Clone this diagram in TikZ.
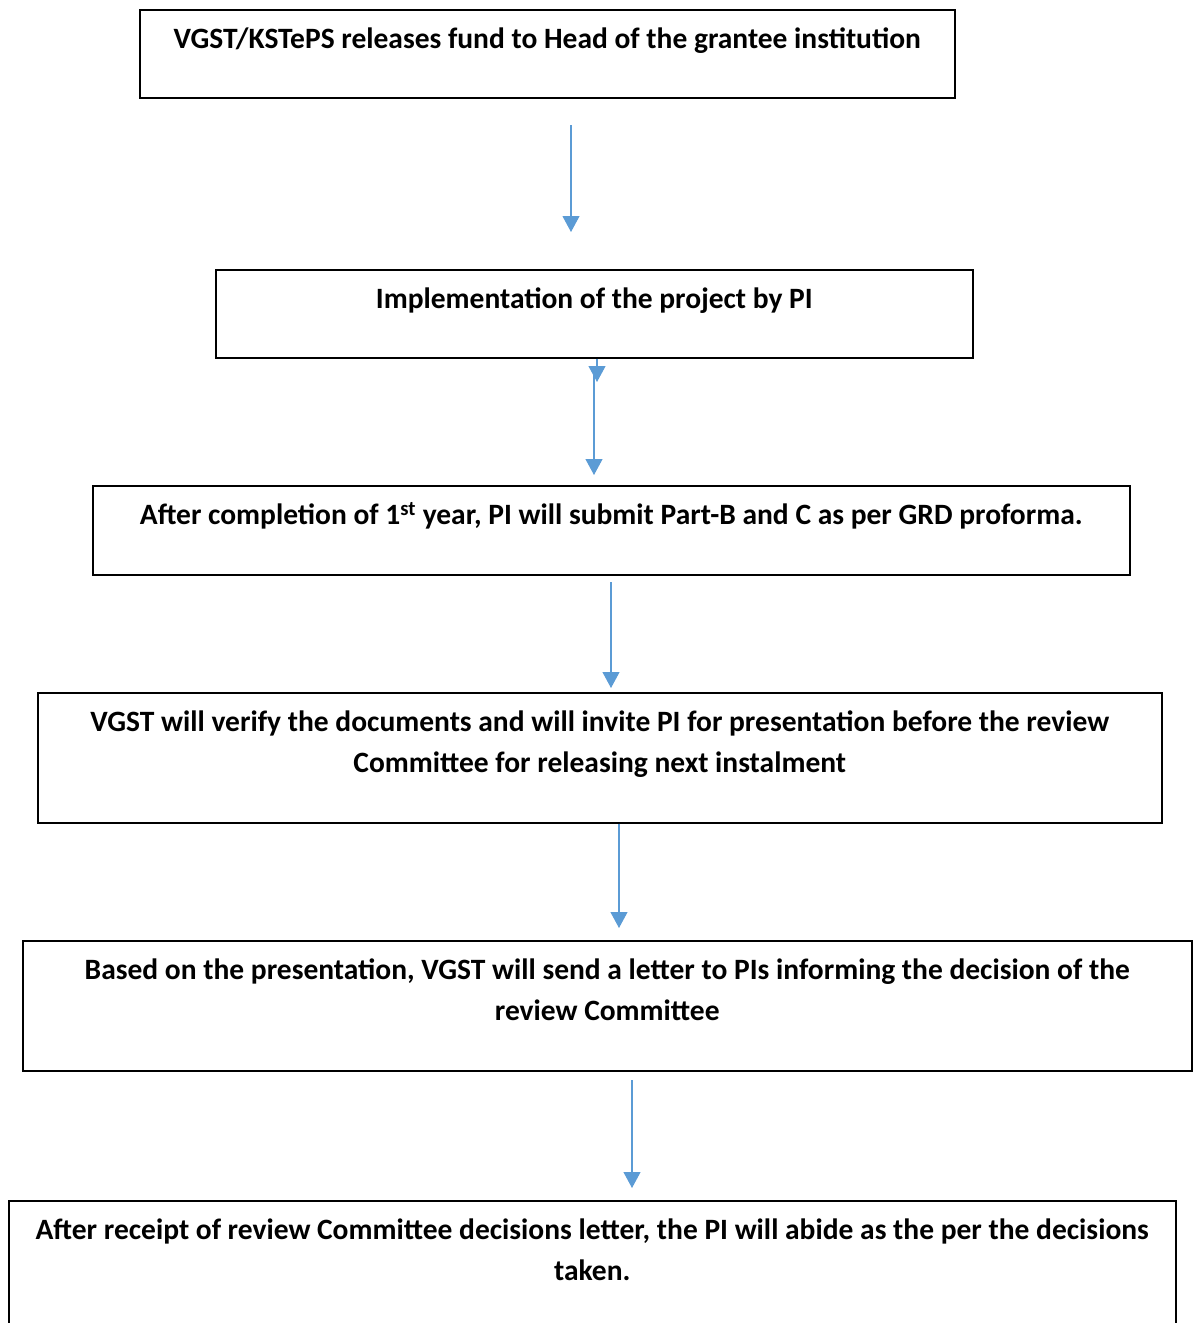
\documentclass[tikz,border=0pt]{standalone}
\usepackage{fontspec}
\setmainfont{Carlito}
\usetikzlibrary{arrows.meta}
\definecolor{arrowblue}{HTML}{5B9BD5}
\newcommand\firstln{\rule{0pt}{24pt}}
\tikzset{
  box/.style={draw=black, line width=1.6pt, anchor=north west, inner sep=0pt},
  txt/.style={font=\bfseries\fontsize{29.5}{41}\selectfont, align=center, anchor=north, inner sep=0pt},
  flow/.style={draw=arrowblue, line width=1.1pt, -{Triangle[width=17pt,length=16pt]}},
}
\begin{document}
\begin{tikzpicture}[x=1pt,y=-1pt]
\useasboundingbox (0,0) rectangle (1195,1323);
% boxes
\node[box, minimum width=815pt, minimum height=88pt] (b1) at (139,9) {};
\node[box, minimum width=757pt, minimum height=88pt] (b2) at (215,269) {};
\node[box, minimum width=1037pt, minimum height=89pt] (b3) at (92,485) {};
\node[box, minimum width=1124pt, minimum height=130pt] (b4) at (37,692) {};
\node[box, minimum width=1169pt, minimum height=130pt] (b5) at (22,940) {};
\node[box, minimum width=1167pt, minimum height=140pt] (b6) at (8,1200) {};
% texts
\node[txt] (t1) at ([yshift=-15pt]b1.north) {\firstln VGST/KSTePS releases fund to Head of the grantee institution};
\node[txt] (t2) at ([yshift=-15pt]b2.north) {\firstln Implementation of the project by PI};
\node[txt] (t3) at ([yshift=-15pt]b3.north) {\firstln After completion of 1\textsuperscript{st} year, PI will submit Part-B and C as per GRD proforma.};
\node[txt] (t4) at ([yshift=-15pt]b4.north) {\firstln VGST will verify the documents and will invite PI for presentation before the review\\Committee for releasing next instalment};
\node[txt] (t5) at ([yshift=-15pt]b5.north) {\firstln Based on the presentation, VGST will send a letter to PIs informing the decision of the\\review Committee};
\node[txt] (t6) at ([yshift=-15pt]b6.north) {\firstln After receipt of review Committee decisions letter, the PI will abide as the per the decisions\\taken.};
% arrow end points
\coordinate (s1) at (571,125);  \coordinate (e1) at (571,232);
\coordinate (e2a) at (597,382);
\coordinate (s2) at (594,372);  \coordinate (e2) at (594,475);
\coordinate (s3) at (611,582);  \coordinate (e3) at (611,688);
\coordinate (e4) at (619,928);
\coordinate (s5) at (632,1080); \coordinate (e5) at (632,1188);
% connectors
\draw[flow] (s1) -- (e1);
\draw[flow] (b2.south -| e2a) -- (e2a);
\draw[flow] (s2) -- (e2);
\draw[flow] (s3) -- (e3);
\draw[flow] (b4.south -| e4) -- (e4);
\draw[flow] (s5) -- (e5);
\end{tikzpicture}
\end{document}
